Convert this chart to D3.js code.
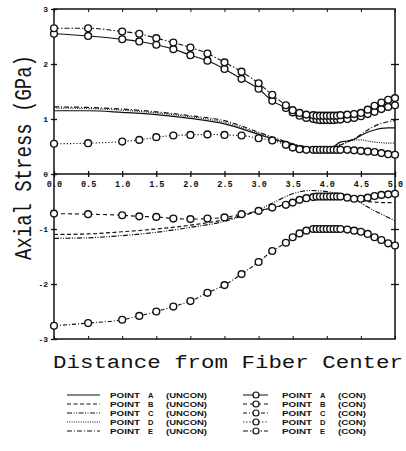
<!DOCTYPE html>
<html><head><meta charset="utf-8">
<script src="https://cdn.jsdelivr.net/npm/d3@7"></script>
<style>body{margin:0;background:#fff}svg{display:block}</style>
</head><body>
<svg id="c" width="406" height="451"></svg>
<script>
// ---- data ----
const xTickVals = [0,0.5,1,1.5,2,2.5,3,3.5,4,4.5,5];
const xTickLabels = ["0.0","0.5","1.0","1.5","2.0","2.5","3.0","3.5","4.0","4.5","5.0"];
const yTickVals = [-3,-2,-1,0,1,2,3];
const yTickLabels = ["-3","-2","-1","0","1","2","3"];

const uncX = [0,0.5,1.0,1.5,2.0,2.5,3.0,3.25,3.5,3.75,4.0,4.1,4.2,4.3,4.4,4.5,4.6,4.7,4.8,4.9,5.0];
const uncA = [1.15,1.15,1.12,1.08,1.01,0.91,0.72,0.62,0.53,0.47,0.46,0.50,0.58,0.60,0.63,0.70,0.76,0.80,0.83,0.84,0.84];
const uncB = [-1.10,-1.09,-1.05,-1.00,-0.93,-0.83,-0.68,-0.60,-0.51,-0.43,-0.39,-0.39,-0.40,-0.42,-0.45,-0.48,-0.50,-0.51,-0.52,-0.52,-0.52];
const uncC = [-1.17,-1.16,-1.12,-1.06,-0.97,-0.86,-0.65,-0.50,-0.36,-0.30,-0.32,-0.34,-0.36,-0.38,-0.42,-0.52,-0.60,-0.67,-0.73,-0.79,-0.85];
const uncD = [1.20,1.19,1.16,1.11,1.04,0.94,0.74,0.63,0.54,0.48,0.47,0.49,0.53,0.58,0.62,0.62,0.60,0.58,0.57,0.56,0.56];
const uncE = [1.22,1.21,1.18,1.13,1.06,0.97,0.76,0.65,0.55,0.49,0.48,0.50,0.53,0.58,0.64,0.72,0.80,0.87,0.92,0.95,0.97];

const conX = [0,0.5,1.0,1.25,1.5,1.75,2.0,2.25,2.5,2.75,3.0,3.2,3.4,3.5,3.6,3.7,3.8,3.85,3.9,3.95,4.0,4.05,4.1,4.15,4.2,4.3,4.4,4.5,4.6,4.7,4.8,4.9,5.0];
const conA = [2.55,2.51,2.45,2.41,2.35,2.27,2.16,2.06,1.91,1.73,1.55,1.33,1.20,1.12,1.06,1.02,1.00,0.99,0.98,0.98,0.98,0.98,0.98,0.99,0.99,1.00,1.02,1.05,1.09,1.13,1.18,1.22,1.25];
const conB = [-0.72,-0.73,-0.75,-0.77,-0.78,-0.81,-0.82,-0.81,-0.79,-0.73,-0.67,-0.61,-0.56,-0.52,-0.47,-0.44,-0.42,-0.41,-0.41,-0.41,-0.41,-0.41,-0.41,-0.41,-0.41,-0.43,-0.45,-0.45,-0.43,-0.40,-0.38,-0.37,-0.36];
const conC = [-2.76,-2.71,-2.65,-2.58,-2.50,-2.41,-2.31,-2.16,-2.02,-1.82,-1.60,-1.40,-1.25,-1.15,-1.08,-1.03,-1.00,-1.00,-1.00,-1.00,-1.00,-1.00,-1.00,-1.00,-1.00,-1.01,-1.03,-1.05,-1.09,-1.15,-1.20,-1.26,-1.30];
const conD = [0.55,0.56,0.59,0.62,0.67,0.70,0.71,0.72,0.71,0.70,0.65,0.61,0.53,0.48,0.45,0.44,0.44,0.44,0.44,0.44,0.44,0.44,0.44,0.44,0.44,0.44,0.43,0.42,0.41,0.40,0.38,0.36,0.35];
const conE = [2.65,2.65,2.59,2.55,2.47,2.39,2.30,2.19,2.03,1.86,1.65,1.44,1.25,1.16,1.11,1.08,1.07,1.06,1.06,1.06,1.06,1.06,1.06,1.06,1.07,1.08,1.09,1.11,1.17,1.24,1.30,1.35,1.38];

const uncNames = ["POINT A","POINT B","POINT C","POINT D","POINT E"];
const conNames = ["POINT A","POINT B","POINT C","POINT D","POINT E"];

// ---- styles ----
const uncDash = [null,"4,2.5","5,1.5,1,1.5,1,1.5","1,1.3","5,2,1,2"];
const conDash = [null,"4,3","4,2,1,2","1.2,2","5,2,1.5,2"];

const svg = d3.select("#c");
const x = d3.scaleLinear().domain([0,5]).range([54,395]);
const y = d3.scaleLinear().domain([-3,3]).range([339,9]);
const ink = "#111";

// frame
svg.append("rect").attr("x",x(0)).attr("y",y(3)).attr("width",x(5)-x(0)).attr("height",y(-3)-y(3))
  .attr("fill","none").attr("stroke",ink).attr("stroke-width",1.5);
svg.append("line").attr("x1",x(0)).attr("x2",x(5)).attr("y1",y(0)).attr("y2",y(0))
  .attr("stroke",ink).attr("stroke-width",1.5);

// x ticks on zero line, top and bottom
const xa = svg.append("g").attr("transform",`translate(0,${y(0)})`)
  .call(d3.axisBottom(x).tickValues(xTickVals).tickFormat((d,i)=>xTickLabels[i]).tickSize(3).tickPadding(4));
xa.select(".domain").remove();
xa.selectAll(".tick line").attr("y1",-3).attr("y2",3).attr("stroke",ink).attr("stroke-width",1.3);
xa.selectAll(".tick text").attr("font-family","Liberation Mono, DejaVu Sans Mono, monospace")
  .attr("font-weight","bold").attr("font-size",8.5).attr("fill",ink);

const xt = svg.append("g").attr("transform",`translate(0,${y(3)})`)
  .call(d3.axisBottom(x).tickValues(xTickVals).tickFormat("").tickSize(3));
xt.select(".domain").remove(); xt.selectAll(".tick line").attr("stroke",ink);
const xb = svg.append("g").attr("transform",`translate(0,${y(-3)})`)
  .call(d3.axisTop(x).tickValues(xTickVals).tickFormat("").tickSize(3));
xb.select(".domain").remove(); xb.selectAll(".tick line").attr("stroke",ink);

// y ticks
const ya = svg.append("g").attr("transform",`translate(${x(0)},0)`)
  .call(d3.axisLeft(y).tickValues(yTickVals).tickFormat((d,i)=>yTickLabels[i]).tickSize(3).tickPadding(3));
ya.select(".domain").remove();
ya.selectAll(".tick line").attr("x1",-3).attr("x2",3).attr("stroke",ink).attr("stroke-width",1.3);
ya.selectAll(".tick text").attr("font-family","Liberation Mono, DejaVu Sans Mono, monospace")
  .attr("font-weight","bold").attr("font-size",8).attr("fill",ink);
const yr = svg.append("g").attr("transform",`translate(${x(5)},0)`)
  .call(d3.axisRight(y).tickValues(yTickVals.filter(v=>Math.abs(v)<3 && v!==0)).tickFormat("").tickSize(4));
yr.select(".domain").remove();
yr.selectAll(".tick line").attr("x1",-4).attr("x2",4).attr("stroke",ink).attr("stroke-width",1.3);

// titles
svg.append("text").attr("x",53).attr("y",368).attr("font-family","Liberation Mono, monospace")
  .attr("font-size",19).attr("textLength",350).attr("lengthAdjust","spacingAndGlyphs").attr("fill",ink)
  .text("Distance from Fiber Center");
svg.append("text").attr("transform","translate(31,260) rotate(-90)")
  .attr("font-family","Liberation Mono, monospace").attr("font-size",24)
  .attr("textLength",205).attr("lengthAdjust","spacingAndGlyphs").attr("fill",ink)
  .text("Axial Stress (GPa)");

// lines
const line = d3.line().x(d=>x(d[0])).y(d=>y(d[1])).curve(d3.curveMonotoneX);
const uncSeries = [uncA,uncB,uncC,uncD,uncE];
const conSeries = [conA,conB,conC,conD,conE];
const plot = svg.append("g");
uncSeries.forEach((s,i)=>{
  plot.append("path").datum(uncX.map((xv,j)=>[xv,s[j]])).attr("d",line)
    .attr("fill","none").attr("stroke",ink).attr("stroke-width",1.2)
    .attr("stroke-dasharray",uncDash[i]);
});
conSeries.forEach((s,i)=>{
  plot.append("path").datum(conX.map((xv,j)=>[xv,s[j]])).attr("d",line)
    .attr("fill","none").attr("stroke",ink).attr("stroke-width",1.1)
    .attr("stroke-dasharray",conDash[i]);
});
conSeries.forEach((s,i)=>{
  plot.append("g").selectAll("circle").data(conX.map((xv,j)=>[xv,s[j]])).join("circle")
    .attr("cx",d=>x(d[0])).attr("cy",d=>y(d[1])).attr("r",3.4)
    .attr("fill","#fff").attr("stroke",ink).attr("stroke-width",1.4);
});

// legend
const lg = svg.append("g");
const rowY = [395,404,413,422,431];
const lf = "Liberation Sans, Arial, sans-serif";
function legText(x0, yy, name, tag, tagLen){
  const parts = name.split(" ");
  lg.append("text").attr("x",x0).attr("y",yy+2.5).attr("font-family",lf).attr("font-weight","bold")
    .attr("font-size",7.5).attr("textLength",30).attr("lengthAdjust","spacingAndGlyphs").attr("fill",ink).text(parts[0]);
  lg.append("text").attr("x",x0+38).attr("y",yy+2.5).attr("font-family",lf).attr("font-weight","bold")
    .attr("font-size",7.5).attr("fill",ink).text(parts[1]);
  lg.append("text").attr("x",x0+56).attr("y",yy+2.5).attr("font-family",lf).attr("font-weight","bold")
    .attr("font-size",7.5).attr("textLength",tagLen).attr("lengthAdjust","spacingAndGlyphs").attr("fill",ink).text(tag);
}
uncNames.forEach((n,i)=>{
  lg.append("line").attr("x1",67).attr("x2",100).attr("y1",rowY[i]).attr("y2",rowY[i])
    .attr("stroke",ink).attr("stroke-width",1).attr("stroke-dasharray",uncDash[i]);
  legText(110,rowY[i],n,"(UNCON)",41);
});
conNames.forEach((n,i)=>{
  lg.append("line").attr("x1",243).attr("x2",268).attr("y1",rowY[i]).attr("y2",rowY[i])
    .attr("stroke",ink).attr("stroke-width",1).attr("stroke-dasharray",conDash[i]);
  lg.append("circle").attr("cx",256).attr("cy",rowY[i]).attr("r",3)
    .attr("fill","#fff").attr("stroke",ink).attr("stroke-width",1.2);
  legText(282,rowY[i],n,"(CON)",28);
});
</script>
</body></html>
